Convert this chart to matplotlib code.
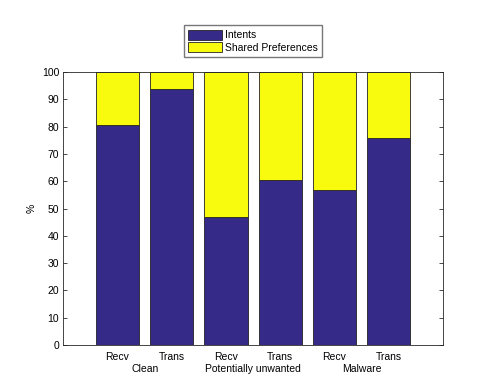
import matplotlib.pyplot as plt
import numpy as np

# share of each API (in %)
tick_labels = ['Recv', 'Trans', 'Recv', 'Trans', 'Recv', 'Trans']
groups = ['Clean', 'Potentially unwanted', 'Malware']
intents = [80.7, 93.9, 47.0, 60.4, 56.9, 75.9]
shared_prefs = [100 - v for v in intents]

plt.rcParams['font.size'] = 7.5
plt.rcParams['font.family'] = 'Liberation Sans'

fig = plt.figure(figsize=(4.91, 3.83), dpi=100)
ax = fig.add_axes([0.129, 0.099, 0.773, 0.713])

x = np.arange(1, len(intents) + 1)
b1 = ax.bar(x, intents, 0.8, color='#352a87', edgecolor='#222222', linewidth=0.6, label='Intents')
b2 = ax.bar(x, shared_prefs, 0.8, bottom=intents, color='#f9fb0e', edgecolor='#222222',
            linewidth=0.6, label='Shared Preferences')

ax.set_xlim(0, 7)
ax.set_ylim(0, 100)
ax.set_yticks(np.arange(0, 101, 10))
ax.set_xticks(x)
ax.set_xticklabels(tick_labels)
ax.tick_params(direction='in', length=3, right=True, top=False, width=0.5, pad=3)
ax.tick_params(axis='x', length=0, pad=5)
for s in ax.spines.values():
    s.set_linewidth(0.6)
    s.set_color('#262626')
ax.set_ylabel('%')

# group names below tick labels
for i, g in enumerate(groups):
    ax.text(1.5 + 2 * i, -8.8, g, ha='center', va='center')

ax.legend(loc='lower center', bbox_to_anchor=(0.5, 1.055), frameon=True, fancybox=False,
          edgecolor='#555555', handlelength=3.2, handleheight=1.1, borderpad=0.4,
          labelspacing=0.2, handletextpad=0.3, borderaxespad=0)

fig.savefig('out.png', dpi=100)
